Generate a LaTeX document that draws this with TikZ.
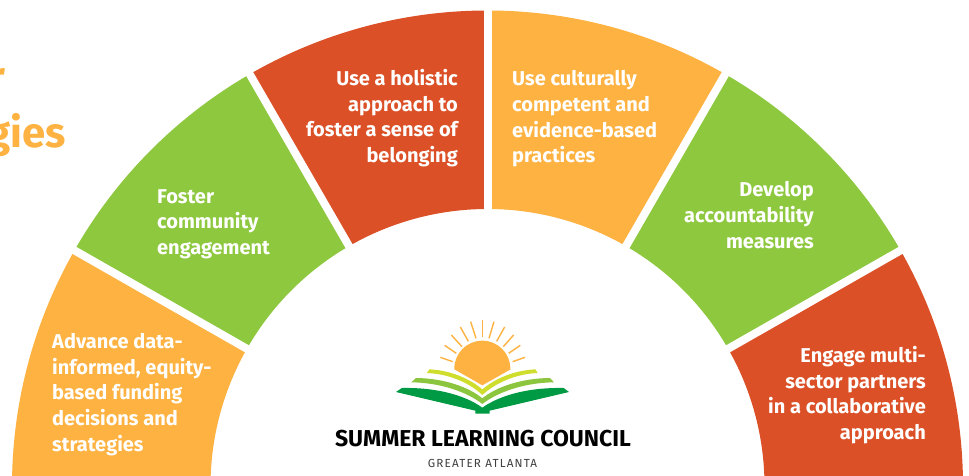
\documentclass[tikz,border=0pt]{standalone}
\usepackage{fontspec}
\setmainfont{Fira Sans}
\definecolor{sorange}{HTML}{FDB241}
\definecolor{sgreen}{HTML}{8DC83F}
\definecolor{sred}{HTML}{DB5026}
\definecolor{lime}{HTML}{CFDD2C}
\definecolor{lgreen}{HTML}{8CC63F}
\definecolor{dgreen}{HTML}{009A44}
\tikzset{
  sectortext/.style={inner sep=0pt,text=white,font=\bfseries\fontsize{20}{25.6}\selectfont},
  lefttext/.style={sectortext,anchor=west,align=left},
  righttext/.style={sectortext,anchor=east,align=right},
  gapline/.style={draw=white,line width=8pt},
  ray/.style={draw=sorange,line width=1.4pt},
  titletext/.style={inner sep=0pt,text=sorange,font=\fontsize{42}{42}\selectfont\bfseries,anchor=base east}
}
\newcommand{\sect}[3]{\fill[#3] (#1:277) -- (#1:475.5) arc[start angle=#1,end angle=#2,radius=475.5] -- (#2:277) arc[start angle=#2,end angle=#1,radius=277] -- cycle;}
\begin{document}
\begin{tikzpicture}[x=1pt,y=1pt]
\useasboundingbox (0,0) rectangle (969,476);
\clip (0,0) rectangle (969,476);
\fill[white] (0,0) rectangle (969,476);
\begin{scope}[shift={(487.5,-10)}]
\sect{150}{180}{sorange}
\sect{120}{150}{sgreen}
\sect{90}{120}{sred}
\sect{60}{90}{sorange}
\sect{30}{60}{sgreen}
\sect{0}{30}{sred}
\foreach \a in {29.7,60,90,120,150.3}{\draw[gapline] (\a:270) -- (\a:485);}
\end{scope}
\node[lefttext] (advance) at (52,81.5) {Advance data-\\informed, equity-\\based funding\\decisions and\\strategies};
\node[lefttext] (foster) at (157,252) {Foster\\community\\engagement};
\node[righttext] (holistic) at (458,358) {Use a holistic\\approach to\\foster a sense of\\belonging};
\node[lefttext] (cultural) at (512,357) {Use culturally\\competent and\\evidence-based\\practices};
\node[righttext] (account) at (814,261) {Develop\\accountability\\measures};
\node[righttext] (engage) at (926,81) {Engage multi-\\sector partners\\in a collaborative\\approach};
\node[titletext] (titler) at (6,384) {r};
\node[titletext] (titlegies) at (66,328) {gies};
\begin{scope}[shift={(380,166)},x=0.3333pt,y=-0.3333pt]
\fill[sorange] (223,176) arc[start angle=180,end angle=360,radius=84] -- (392,178) -- (307,226) -- (223,178) -- cycle;
\foreach \xa/\ya/\xb/\yb in {181/142/218/155,194/106/229/130,214/75/246/110,241/51/265/94,272/35/288/85,307/29/307/82,342/35/327/85,374/51/350/94,401/75/370/110,421/106/386/130,435/142/398/155}
  {\draw[ray] (\xa,\ya) -- (\xb,\yb);}
\fill[lime] (148,178) .. controls (225,182) and (280,215) .. (307,238) .. controls (334,215) and (389,182) .. (466,178) -- (473,189) .. controls (405,192) and (345,220) .. (307,255) .. controls (270,220) and (210,192) .. (141,189) -- cycle;
\fill[lgreen] (108,204) .. controls (190,205) and (265,230) .. (307,265) .. controls (350,230) and (425,205) .. (510,204) -- (522,217) .. controls (435,218) and (355,245) .. (307,282) .. controls (260,245) and (180,218) .. (94,217) -- cycle;
\fill[dgreen] (66,234) .. controls (160,232) and (250,252) .. (307,293) .. controls (365,252) and (455,232) .. (551,234) -- (567,246) -- (329,302) -- (329,311) -- (286,311) -- (286,302) -- (48,246) -- cycle;
\end{scope}
\node[inner sep=0pt,text=black,font=\fontsize{23}{24}\selectfont\bfseries] (logoname) at (483,37.5) {SUMMER LEARNING COUNCIL};
\node[inner sep=0pt,text=black!75,font=\fontsize{11.7}{12}\selectfont\addfontfeature{LetterSpace=10}] (logosub) at (482.5,13) {GREATER ATLANTA};
\end{tikzpicture}
\end{document}
